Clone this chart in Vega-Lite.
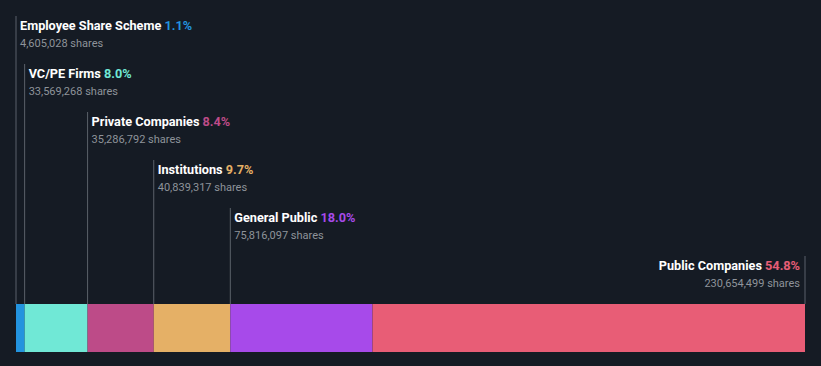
{
  "$schema": "https://vega.github.io/schema/vega-lite/v6.json",
  "width": 821,
  "height": 366,
  "padding": 0,
  "autosize": {"type": "none"},
  "background": "#151b24",
  "config": {"view": {"stroke": null}, "font": "Roboto"},
  "data": {
    "values": [
      {"rank": 0, "name": "Employee Share Scheme", "pct": "1.1%", "shares": 4605028},
      {"rank": 1, "name": "VC/PE Firms", "pct": "8.0%", "shares": 33569268},
      {"rank": 2, "name": "Private Companies", "pct": "8.4%", "shares": 35286792},
      {"rank": 3, "name": "Institutions", "pct": "9.7%", "shares": 40839317},
      {"rank": 4, "name": "General Public", "pct": "18.0%", "shares": 75816097},
      {"rank": 5, "name": "Public Companies", "pct": "54.8%", "shares": 230654499}
    ]
  },
  "transform": [
    {"stack": "shares", "groupby": [], "sort": [{"field": "rank"}], "as": ["x0", "x1"]},
    {"calculate": "datum.rank == 5 ? datum.x1 : datum.x0", "as": "xa"},
    {"calculate": "datum.name + ' ' + datum.pct", "as": "full"},
    {"calculate": "format(datum.shares, ',') + ' shares'", "as": "sub"}
  ],
  "layer": [
    {
      "mark": {"type": "bar"},
      "encoding": {
        "x": {"field": "x0", "type": "quantitative", "axis": null, "scale": {"domain": [0, 420771001], "range": [16, 805], "nice": false, "zero": false}},
        "x2": {"field": "x1"},
        "y": {"datum": 6, "type": "quantitative", "axis": null, "scale": {"domain": [0, 7], "range": [16, 352], "nice": false, "zero": false}},
        "y2": {"datum": 7},
        "color": {"field": "name", "type": "nominal", "legend": null, "scale": {"domain": ["Employee Share Scheme", "VC/PE Firms", "Private Companies", "Institutions", "General Public", "Public Companies"], "range": ["#2394df", "#70e8d6", "#bd4b88", "#e5b066", "#a74aea", "#e85d76"]}}
      }
    },
    {
      "mark": {"type": "rule", "color": "#5b616a", "strokeWidth": 1},
      "encoding": {
        "x": {"field": "xa", "type": "quantitative"},
        "y": {"field": "rank", "type": "quantitative"},
        "y2": {"datum": 6}
      }
    },
    {
      "transform": [{"filter": "datum.rank < 5"}],
      "mark": {"type": "text", "align": "left", "baseline": "alphabetic", "dx": 4, "dy": 14, "fontSize": 12.7, "fontWeight": "bold"},
      "encoding": {
        "x": {"field": "x0", "type": "quantitative"},
        "y": {"field": "rank", "type": "quantitative"},
        "text": {"field": "full"},
        "color": {"field": "name", "type": "nominal", "legend": null}
      }
    },
    {
      "transform": [{"filter": "datum.rank < 5"}],
      "mark": {"type": "text", "align": "left", "baseline": "alphabetic", "dx": 4, "dy": 14, "fontSize": 12.7, "fontWeight": "bold", "color": "#151b24", "stroke": "#151b24", "strokeWidth": 1.2},
      "encoding": {
        "x": {"field": "x0", "type": "quantitative"},
        "y": {"field": "rank", "type": "quantitative"},
        "text": {"field": "name"}
      }
    },
    {
      "transform": [{"filter": "datum.rank < 5"}],
      "mark": {"type": "text", "align": "left", "baseline": "alphabetic", "dx": 4, "dy": 14, "fontSize": 12.7, "fontWeight": "bold", "color": "#ffffff"},
      "encoding": {
        "x": {"field": "x0", "type": "quantitative"},
        "y": {"field": "rank", "type": "quantitative"},
        "text": {"field": "name"}
      }
    },
    {
      "transform": [{"filter": "datum.rank == 5"}],
      "mark": {"type": "text", "align": "right", "baseline": "alphabetic", "dx": -5, "dy": 14, "fontSize": 12.7, "fontWeight": "bold", "color": "#ffffff"},
      "encoding": {
        "x": {"field": "x1", "type": "quantitative"},
        "y": {"field": "rank", "type": "quantitative"},
        "text": {"field": "full"}
      }
    },
    {
      "transform": [{"filter": "datum.rank == 5"}],
      "mark": {"type": "text", "align": "right", "baseline": "alphabetic", "dx": -5, "dy": 14, "fontSize": 12.7, "fontWeight": "bold", "color": "#151b24", "stroke": "#151b24", "strokeWidth": 1.2},
      "encoding": {
        "x": {"field": "x1", "type": "quantitative"},
        "y": {"field": "rank", "type": "quantitative"},
        "text": {"field": "pct"}
      }
    },
    {
      "transform": [{"filter": "datum.rank == 5"}],
      "mark": {"type": "text", "align": "right", "baseline": "alphabetic", "dx": -5, "dy": 14, "fontSize": 12.7, "fontWeight": "bold"},
      "encoding": {
        "x": {"field": "x1", "type": "quantitative"},
        "y": {"field": "rank", "type": "quantitative"},
        "text": {"field": "pct"},
        "color": {"field": "name", "type": "nominal", "legend": null}
      }
    },
    {
      "transform": [{"filter": "datum.rank < 5"}],
      "mark": {"type": "text", "align": "left", "baseline": "alphabetic", "dx": 4, "dy": 31, "fontSize": 11, "color": "#8e939a"},
      "encoding": {
        "x": {"field": "x0", "type": "quantitative"},
        "y": {"field": "rank", "type": "quantitative"},
        "text": {"field": "sub"}
      }
    },
    {
      "transform": [{"filter": "datum.rank == 5"}],
      "mark": {"type": "text", "align": "right", "baseline": "alphabetic", "dx": -5, "dy": 31, "fontSize": 11, "color": "#8e939a"},
      "encoding": {
        "x": {"field": "x1", "type": "quantitative"},
        "y": {"field": "rank", "type": "quantitative"},
        "text": {"field": "sub"}
      }
    }
  ]
}
